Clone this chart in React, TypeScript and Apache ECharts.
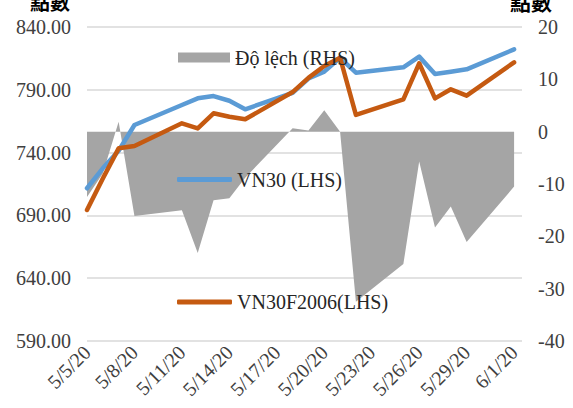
import React, { useEffect, useRef } from "react";
import * as echarts from "echarts";

const dates = [
  "2020-05-05", "2020-05-06", "2020-05-07", "2020-05-08", "2020-05-11",
  "2020-05-12", "2020-05-13", "2020-05-14", "2020-05-15", "2020-05-18",
  "2020-05-19", "2020-05-20", "2020-05-21", "2020-05-22", "2020-05-25",
  "2020-05-26", "2020-05-27", "2020-05-28", "2020-05-29", "2020-06-01",
];
const vn30 = [
  711.6, 727.5, 741.5, 762.0, 777.9, 783.2, 785.0, 781.3, 774.5, 787.5,
  799.0, 804.5, 815.5, 803.6, 807.9, 816.4, 802.6, 804.4, 806.3, 822.2,
];
const vn30f = [
  694.3, 719.4, 743.4, 745.2, 763.3, 759.3, 771.3, 768.5, 766.5, 788.2,
  799.5, 809.0, 815.5, 770.0, 782.4, 811.1, 783.2, 790.4, 785.3, 811.9,
];
const deviation = [
  -12.5, -8.0, 1.9, -16.1, -15.0, -23.2, -13.1, -12.7, -8.8, 0.65,
  0.2, 4.1, 0.0, -32.5, -25.3, -5.7, -18.3, -14.3, -21.1, -10.5,
];
const seriesNames = ["Độ lệch (RHS)", "VN30 (LHS)", "VN30F2006(LHS)"];
const axisTitle = "點數";
const leftAxis = { min: 590, max: 840, step: 50 };
const rightAxis = { min: -40, max: 20, step: 10 };
const xTickStepDays = 3;
const xMaxDays = 27.5;

const DAY = 86400000;
const base = Date.parse(dates[0]);
const offsets = dates.map((d) => (Date.parse(d) - base) / DAY);
const zip = (vals: number[]) => offsets.map((o, i) => [o, vals[i]]);

const FONT = "Liberation Serif";
const TXT = "#404040";

export default function App() {
  const ref = useRef<HTMLDivElement>(null);
  useEffect(() => {
    if (!ref.current) return;
    const chart = echarts.init(ref.current, undefined, { renderer: "svg" });
    const legendBase = {
      padding: 0,
      itemWidth: 55,
      itemHeight: 5,
      itemGap: 0,
      icon: "roundRect",
      textStyle: { fontSize: 20, fontFamily: FONT, color: "#262626" },
      selectedMode: false,
    };
    chart.setOption({
      animation: false,
      backgroundColor: "#ffffff",
      grid: { left: 87, right: 51, top: 27, bottom: 67, containLabel: false },
      xAxis: {
        type: "value",
        min: 0,
        max: xMaxDays,
        interval: xTickStepDays,
        axisLine: { show: false },
        axisTick: { show: false },
        splitLine: { show: false },
        axisLabel: {
          rotate: 45,
          margin: 8,
          fontSize: 20,
          fontFamily: FONT,
          color: TXT,
          formatter: (v: number) => {
            if (Math.abs(v / xTickStepDays - Math.round(v / xTickStepDays)) > 1e-6) return "";
            const d = new Date(base + v * DAY);
            return `${d.getUTCMonth() + 1}/${d.getUTCDate()}/${d.getUTCFullYear() % 100}`;
          },
        },
      },
      yAxis: [
        {
          type: "value",
          min: leftAxis.min,
          max: leftAxis.max,
          interval: leftAxis.step,
          axisLine: { show: false },
          axisTick: { show: false },
          splitLine: { show: true, lineStyle: { color: "#d9d9d9", width: 1.5 } },
          axisLabel: {
            margin: 16,
            fontSize: 20,
            fontFamily: FONT,
            color: TXT,
            formatter: (v: number) => v.toFixed(2),
          },
        },
        {
          type: "value",
          min: rightAxis.min,
          max: rightAxis.max,
          interval: rightAxis.step,
          axisLine: { show: false },
          axisTick: { show: false },
          splitLine: { show: false },
          axisLabel: { margin: 16, fontSize: 20, fontFamily: FONT, color: TXT },
        },
      ],
      legend: [
        {
          ...legendBase,
          data: [seriesNames[0]],
          left: 178,
          top: 47.5,
          icon: "rect",
          itemWidth: 52,
          itemHeight: 10,
          itemStyle: { color: "#a5a5a5", borderWidth: 0 },
        },
        {
          ...legendBase,
          data: [seriesNames[1]],
          left: 177,
          top: 169.5,
          itemStyle: { color: "#5b9bd5", borderWidth: 0 },
        },
        {
          ...legendBase,
          data: [seriesNames[2]],
          left: 177,
          top: 292,
          itemStyle: { color: "#c55a11", borderWidth: 0 },
        },
      ],
      graphic: [
        {
          type: "text",
          left: 30,
          top: -9,
          style: { text: axisTitle, fontSize: 20, fontWeight: "bold", fill: "#000", fontFamily: "Noto Sans CJK TC" },
        },
        {
          type: "text",
          left: 510,
          top: -10,
          style: { text: axisTitle, fontSize: 21, fontWeight: "bold", fill: "#000", fontFamily: "Noto Sans CJK TC" },
        },
      ],
      series: [
        {
          name: seriesNames[0],
          type: "line",
          yAxisIndex: 1,
          data: zip(deviation),
          showSymbol: false,
          symbol: "none",
          color: "#a5a5a5",
          lineStyle: { width: 0 },
          areaStyle: { color: "#a5a5a5", opacity: 1 },
          z: 1,
        },
        {
          name: seriesNames[1],
          type: "line",
          yAxisIndex: 0,
          data: zip(vn30),
          showSymbol: false,
          symbol: "none",
          color: "#5b9bd5",
          lineStyle: { width: 4.5, color: "#5b9bd5", cap: "round", join: "round" },
          z: 2,
        },
        {
          name: seriesNames[2],
          type: "line",
          yAxisIndex: 0,
          data: zip(vn30f),
          showSymbol: false,
          symbol: "none",
          color: "#c55a11",
          lineStyle: { width: 4.5, color: "#c55a11", cap: "round", join: "round" },
          z: 3,
        },
      ],
    });
    return () => chart.dispose();
  }, []);
  return <div ref={ref} style={{ width: 573, height: 408, position: "absolute", left: 0, top: 0 }} />;
}
